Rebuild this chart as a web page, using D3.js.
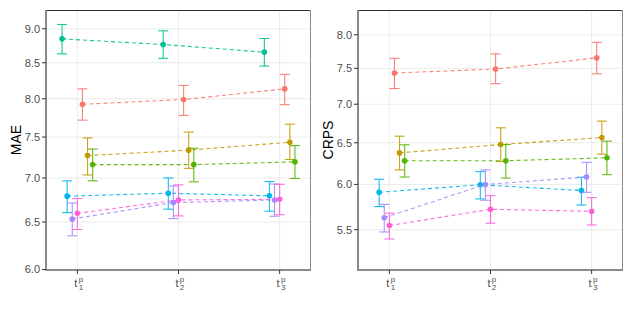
<!DOCTYPE html>
<html><head><meta charset="utf-8">
<script src="https://cdn.jsdelivr.net/npm/d3@7"></script>
<style>body{margin:0;background:#fff}svg{display:block}</style>
</head><body>
<svg id="c" width="634" height="317"></svg>
<script>
// categories (time points) and model groups (dodge order)
const timepoints = ["1", "2", "3"];
const models = ["M4", "M5", "M6", "M7", "M1", "M2", "M3"];
const modelColors = ["#00C094", "#00B6EB", "#A58AFF", "#FB61D7", "#F8766D", "#C49A00", "#53B400"];

// MAE: [mean, lower, upper] per time point
const maeM1 = [[7.925, 7.717, 8.134], [7.99, 7.778, 8.181], [8.134, 7.92, 8.335]];
const maeM2 = [[7.27, 7.036, 7.489], [7.336, 7.115, 7.563], [7.435, 7.222, 7.664]];
const maeM3 = [[7.16, 6.966, 7.35], [7.16, 6.955, 7.36], [7.193, 6.994, 7.393]];
const maeM4 = [[8.849, 8.628, 9.066], [8.765, 8.563, 8.97], [8.653, 8.453, 8.855]];
const maeM5 = [[6.789, 6.604, 6.966], [6.823, 6.642, 7.0], [6.793, 6.619, 6.958]];
const maeM6 = [[6.533, 6.351, 6.711], [6.716, 6.537, 6.906], [6.746, 6.563, 6.93]];
const maeM7 = [[6.596, 6.418, 6.762], [6.746, 6.567, 6.92], [6.754, 6.58, 6.926]];

// CRPS (M4 not available)
const crpsM1 = [[7.433, 7.214, 7.646], [7.49, 7.282, 7.712], [7.653, 7.421, 7.884]];
const crpsM2 = [[6.375, 6.17, 6.583], [6.478, 6.27, 6.69], [6.566, 6.359, 6.776]];
const crpsM3 = [[6.28, 6.086, 6.475], [6.28, 6.074, 6.478], [6.315, 6.114, 6.52]];
const crpsM5 = [[5.91, 5.75, 6.06], [5.996, 5.835, 6.15], [5.93, 5.767, 6.083]];
const crpsM6 = [[5.628, 5.476, 5.774], [6.0, 5.82, 6.17], [6.086, 5.91, 6.26]];
const crpsM7 = [[5.544, 5.403, 5.678], [5.72, 5.569, 5.872], [5.698, 5.55, 5.85]];

const maeTicks = [6.0, 6.5, 7.0, 7.5, 8.0, 8.5, 9.0];
const crpsTicks = [5.5, 6.0, 6.5, 7.0, 7.5, 8.0];

const maeSeries = {M1: maeM1, M2: maeM2, M3: maeM3, M4: maeM4, M5: maeM5, M6: maeM6, M7: maeM7};
const crpsSeries = {M1: crpsM1, M2: crpsM2, M3: crpsM3, M5: crpsM5, M6: crpsM6, M7: crpsM7};

const svg = d3.select("#c");
const color = d3.scaleOrdinal().domain(models).range(modelColors);

function panel(opts) {
  const {x0, x1, y0, y1, domain, ticks, series, title, titleX} = opts;
  const g = svg.append("g");
  const x = d3.scalePoint().domain(timepoints).range([x0, x1]).padding(0.31);
  const y = d3.scaleLog().domain(domain).range([y1, y0]);
  const dodge = d3.scaleLinear().domain([0, models.length - 1]).range([-15.3, 15.3]);

  // grid
  g.selectAll(".gy").data(ticks).join("line")
    .attr("x1", x0).attr("x2", x1).attr("y1", d => y(d)).attr("y2", d => y(d))
    .attr("stroke", "#EBEBEB").attr("stroke-width", 1);
  g.selectAll(".gx").data(timepoints).join("line")
    .attr("x1", d => x(d)).attr("x2", d => x(d)).attr("y1", y0).attr("y2", y1)
    .attr("stroke", "#EBEBEB").attr("stroke-width", 1);

  // series
  models.forEach((m, mi) => {
    const data = series[m];
    if (!data) return;
    const c = color(m);
    const px = (i) => x(timepoints[i]) + dodge(mi);
    const pts = data.map((d, i) => [px(i), y(d[0])]);
    g.append("path").attr("d", d3.line()(pts)).attr("fill", "none")
      .attr("stroke", c).attr("stroke-width", 1.1).attr("stroke-dasharray", "4,3").attr("opacity", 0.9);
    data.forEach((d, i) => {
      const cx = px(i);
      const eg = g.append("g").attr("stroke", c).attr("stroke-width", 1.1).attr("opacity", 0.9);
      eg.append("line").attr("x1", cx).attr("x2", cx).attr("y1", y(d[1])).attr("y2", y(d[2]));
      eg.append("line").attr("x1", cx - 5).attr("x2", cx + 5).attr("y1", y(d[1])).attr("y2", y(d[1]));
      eg.append("line").attr("x1", cx - 5).attr("x2", cx + 5).attr("y1", y(d[2])).attr("y2", y(d[2]));
      g.append("circle").attr("cx", cx).attr("cy", y(d[0])).attr("r", 2.8).attr("fill", c);
    });
  });

  // border
  g.append("line").attr("x1", x0).attr("x2", x1).attr("y1", y0 + 0.5).attr("y2", y0 + 0.5)
    .attr("stroke", "#333").attr("stroke-width", 1);
  g.append("line").attr("x1", x1 - 0.5).attr("x2", x1 - 0.5).attr("y1", y0).attr("y2", y1)
    .attr("stroke", "#8a8a8a").attr("stroke-width", 1);
  g.append("line").attr("x1", x0).attr("x2", x1).attr("y1", y1).attr("y2", y1)
    .attr("stroke", "#8a8a8a").attr("stroke-width", 2);
  g.append("line").attr("x1", x0).attr("x2", x0).attr("y1", y0).attr("y2", y1 + 1)
    .attr("stroke", "#8a8a8a").attr("stroke-width", 2);

  // y axis ticks + labels
  g.selectAll(".ty").data(ticks).join("line")
    .attr("x1", x0 - 4).attr("x2", x0).attr("y1", d => y(d)).attr("y2", d => y(d))
    .attr("stroke", "#333").attr("stroke-width", 1);
  g.selectAll(".ly").data(ticks).join("text")
    .attr("x", x0 - 6).attr("y", d => y(d)).attr("dy", "0.35em")
    .attr("text-anchor", "end").attr("font-family", "Liberation Sans, Arial, sans-serif")
    .attr("font-size", 11).attr("fill", "#4D4D4D").text(d => d3.format(".1f")(d));

  // x axis ticks + labels
  g.selectAll(".tx").data(timepoints).join("line")
    .attr("x1", d => x(d)).attr("x2", d => x(d)).attr("y1", y1).attr("y2", y1 + 4)
    .attr("stroke", "#333").attr("stroke-width", 1);
  const lx = g.selectAll(".lx").data(timepoints).join("g")
    .attr("transform", d => `translate(${x(d)},${y1 + 17})`)
    .attr("font-family", "Liberation Sans, Arial, sans-serif").attr("fill", "#4D4D4D");
  lx.append("text").attr("x", -1.5).attr("text-anchor", "middle").attr("font-size", 11).text("t");
  lx.append("text").attr("x", 1.3).attr("y", -5).attr("font-size", 8).text("p");
  lx.append("text").attr("x", 1.3).attr("y", 3).attr("font-size", 8).text(d => d);

  // title
  svg.append("text").attr("transform", `translate(${titleX},${(y0 + y1) / 2}) rotate(-90)`)
    .attr("text-anchor", "middle").attr("font-family", "Liberation Sans, Arial, sans-serif")
    .attr("font-size", 14).attr("fill", "#000").text(title);
}

panel({x0: 46, x1: 311, y0: 10, y1: 270, domain: [5.995, 9.29], ticks: maeTicks,
  series: maeSeries, title: "MAE", titleX: 21});
panel({x0: 358, x1: 623, y0: 10, y1: 270, domain: [5.09, 8.39], ticks: crpsTicks,
  series: crpsSeries, title: "CRPS", titleX: 333});
</script>
</body></html>
